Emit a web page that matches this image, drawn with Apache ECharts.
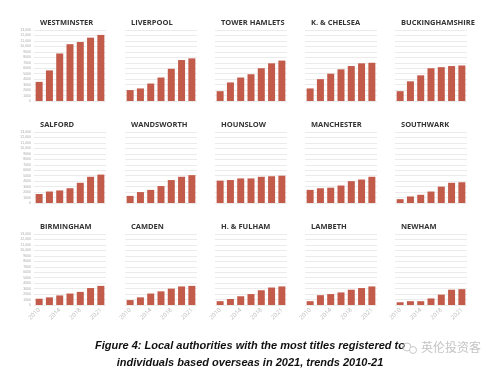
<!DOCTYPE html>
<html><head><meta charset="utf-8">
<script src="https://cdn.jsdelivr.net/npm/echarts@6/dist/echarts.min.js"></script>
<style>html,body{margin:0;padding:0;background:#fff}#c{width:500px;height:378px}</style>
</head><body><div id="c"></div>
<script>
const years = ['2010','2012','2014','2016','2018','2020','2021'];
const yTicks = [0,1000,2000,3000,4000,5000,6000,7000,8000,9000,10000,11000,12000,13000];
const names = ['WESTMINSTER','LIVERPOOL','TOWER HAMLETS','K. & CHELSEA','BUCKINGHAMSHIRE',
  'SALFORD','WANDSWORTH','HOUNSLOW','MANCHESTER','SOUTHWARK',
  'BIRMINGHAM','CAMDEN','H. & FULHAM','LAMBETH','NEWHAM'];
const westminster   = [3500,5600,8700,10400,10800,11600,12100];
const liverpool     = [2000,2300,3200,4300,5900,7500,7800];
const towerHamlets  = [1800,3400,4300,4900,6000,6900,7400];
const kChelsea      = [2300,4000,5000,5800,6400,6900,7000];
const bucks         = [1800,3600,4700,6000,6200,6400,6500];
const salford       = [1650,2100,2300,2700,3700,4800,5200];
const wandsworth    = [1300,2000,2400,3100,4200,4800,5100];
const hounslow      = [4100,4200,4500,4500,4800,4900,5000];
const manchester    = [2400,2700,2800,3200,4000,4300,4800];
const southwark     = [700,1200,1500,2100,3000,3700,3800];
const birmingham    = [1150,1400,1750,2100,2400,3100,3500];
const camden        = [900,1400,2100,2500,3000,3400,3500];
const hFulham       = [700,1100,1600,2000,2700,3200,3400];
const lambeth       = [700,1800,2000,2300,2800,3100,3400];
const newham        = [500,700,700,1200,1900,2800,2900];
const seriesData = [westminster,liverpool,towerHamlets,kChelsea,bucks,salford,wandsworth,hounslow,manchester,southwark,birmingham,camden,hFulham,lambeth,newham];
const caption1 = 'Figure 4: Local authorities with the most titles registered to';
const caption2 = 'individuals based overseas in 2021, trends 2010-21';
const watermark = '英伦投资客';

const colLeft = [34,125,215,305,395];
const rowTop = [30,132,234];
const gw = 72, gh = 71;
const grid = [], xAxis = [], yAxis = [], series = [], title = [];
names.forEach((n,i)=>{
  const r = Math.floor(i/5), c = i%5;
  grid.push({left:colLeft[c], top:rowTop[r], width:gw, height:gh});
  title.push({text:n, left:colLeft[c]+1, top:rowTop[r]-16,
    textStyle:{fontSize:7.5, fontWeight:'bold', color:'#333', fontFamily:'Open Sans'}});
  xAxis.push({type:'category', gridIndex:i, data:years,
    axisLine:{show:false}, axisTick:{show:false},
    axisLabel:{show:r===2, interval:1, rotate:45, fontSize:6, color:'#bbb', margin:4, fontFamily:'Open Sans'}});
  yAxis.push({type:'value', gridIndex:i, min:yTicks[0], max:yTicks[yTicks.length-1], interval:1000,
    axisLine:{show:false}, axisTick:{show:false},
    splitLine:{lineStyle:{color:'#ebebeb', width:1}},
    axisLabel:{show:c===0, fontSize:3.5, color:'#aaa', margin:3,
      formatter:v=> v>=10000 ? (v/1000)+',000' : String(v)}});
  series.push({type:'bar', xAxisIndex:i, yAxisIndex:i, data:seriesData[i], barWidth:7,
    itemStyle:{color:'#c35b4b'}, silent:true});
});
const chart = echarts.init(document.getElementById('c'), null, {renderer:'canvas'});
chart.setOption({
  animation:false, backgroundColor:'#fff',
  title, grid, xAxis, yAxis, series,
  graphic:[
    {type:'text', left:'center', top:340, style:{text:caption1, fill:'#111', font:'italic bold 11px "Liberation Sans"', textAlign:'center'}, x:-5},
    {type:'text', left:'center', top:357, style:{text:caption2, fill:'#111', font:'italic bold 11px "Liberation Sans"', textAlign:'center'}, x:-5},
    {type:'circle', shape:{cx:407, cy:347, r:4}, style:{fill:'none', stroke:'#c8c8c8', lineWidth:1}},
    {type:'circle', shape:{cx:413, cy:350, r:3.5}, style:{fill:'#fff', stroke:'#c8c8c8', lineWidth:1}},
    {type:'text', left:421, top:341, style:{text:watermark, fill:'#c4c4c4', font:'12px "Noto Sans CJK SC"'}}
  ]
});
</script></body></html>
